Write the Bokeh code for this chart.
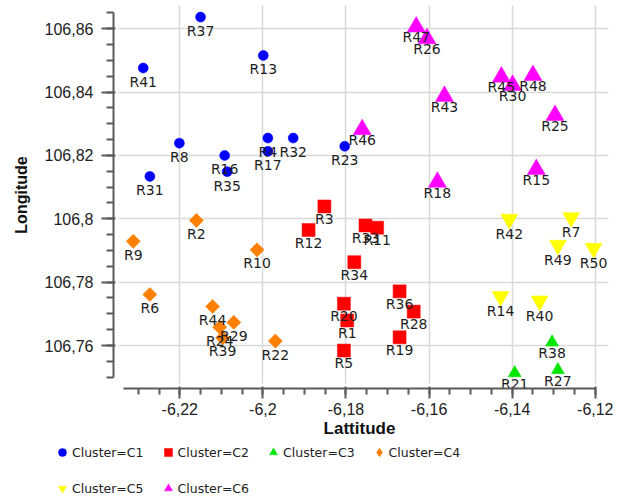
import math
from bokeh.plotting import figure
from bokeh.models import (Range1d, SingleIntervalTicker, CustomJSTickFormatter,
                          Legend, LegendItem)
from bokeh.core.properties import value
from bokeh.embed import file_html
from bokeh.resources import INLINE

# ---------------- data ----------------
c1_names = ["R37", "R13", "R41", "R8", "R31", "R16", "R35", "R4", "R17", "R32", "R23"]
c1_lat = [-6.2150, -6.1999, -6.2288, -6.2201, -6.2272, -6.2092, -6.2086, -6.1988, -6.1988, -6.1927, -6.1803]
c1_lon = [106.8637, 106.8516, 106.8476, 106.8239, 106.8134, 106.8200, 106.8149, 106.8255, 106.8213, 106.8255, 106.8229]

c2_names = ["R3", "R12", "R33", "R11", "R34", "R20", "R1", "R5", "R36", "R28", "R19"]
c2_lat = [-6.1852, -6.1890, -6.1753, -6.1725, -6.1780, -6.1805, -6.1797, -6.1805, -6.1671, -6.1637, -6.1671]
c2_lon = [106.8039, 106.7965, 106.7979, 106.7972, 106.7863, 106.7732, 106.7679, 106.7584, 106.7771, 106.7707, 106.7626]

c3_names = ["R38", "R27", "R21"]
c3_lat = [-6.1304, -6.1290, -6.1394]
c3_lon = [106.7610, 106.7523, 106.7513]

c4_names = ["R2", "R9", "R10", "R6", "R44", "R29", "R24", "R39", "R22"]
c4_lat = [-6.2160, -6.2312, -6.2014, -6.2272, -6.2121, -6.2070, -6.2104, -6.2097, -6.1970]
c4_lon = [106.7995, 106.7929, 106.7902, 106.7761, 106.7723, 106.7673, 106.7658, 106.7624, 106.7614]

c5_names = ["R42", "R7", "R49", "R50", "R14", "R40"]
c5_lat = [-6.1407, -6.1258, -6.1290, -6.1204, -6.1428, -6.1334]
c5_lon = [106.7999, 106.8004, 106.7917, 106.7907, 106.7755, 106.7741]

c6_names = ["R47", "R26", "R45", "R30", "R48", "R43", "R25", "R15", "R18", "R46"]
c6_lat = [-6.1631, -6.1605, -6.1426, -6.1399, -6.1350, -6.1563, -6.1297, -6.1342, -6.1580, -6.1761]
c6_lon = [106.8606, 106.8569, 106.8448, 106.8422, 106.8453, 106.8387, 106.8327, 106.8156, 106.8116, 106.8282]

cluster_labels = ["Cluster=C1", "Cluster=C2", "Cluster=C3", "Cluster=C4", "Cluster=C5", "Cluster=C6"]
x_label = "Lattitude"
y_label = "Longitude"

# ---------------- figure ----------------
# the frame fills the whole canvas; axes are drawn at fixed locations inside it
p = figure(width=621, height=496, title=None,
           x_range=Range1d(-6.26315, -6.11369), y_range=Range1d(106.71232, 106.86894),
           output_backend="svg", toolbar_location=None, min_border=0)
p.outline_line_color = None
p.background_fill_color = "white"

fmt = CustomJSTickFormatter(code="return tick.toFixed(2).replace(/0$/, '').replace('.', ',');")

p.xaxis[0].fixed_location = 106.74642
p.yaxis[0].fixed_location = -6.23596

for ax, bnds, tout, mout in ((p.xaxis[0], (-6.2335, -6.12), 10, 6), (p.yaxis[0], (106.75, 106.865), 12, 7)):
    ax.ticker = SingleIntervalTicker(interval=0.02, num_minor_ticks=4)
    ax.formatter = fmt
    ax.bounds = bnds
    ax.axis_line_color = "#5a5a5a"
    ax.axis_line_width = 2
    ax.major_tick_line_color = "#5a5a5a"
    ax.major_tick_line_width = 2
    ax.minor_tick_line_color = "#5a5a5a"
    ax.minor_tick_line_width = 2
    ax.major_tick_in = 2
    ax.major_tick_out = tout
    ax.minor_tick_in = 0
    ax.minor_tick_out = mout
    ax.major_label_text_font = "Liberation Sans"
    ax.major_label_text_font_size = "16px"
    ax.major_label_text_color = "#222222"
    ax.axis_label_text_font = "Liberation Sans"
    ax.axis_label_text_font_style = "bold"
    ax.axis_label_text_color = "#111111"

p.xaxis.axis_label = x_label
p.yaxis.axis_label = y_label
p.xaxis.axis_label_text_font_size = "17px"
p.yaxis.axis_label_text_font_size = "16px"
p.xaxis.major_label_standoff = 4
p.yaxis.major_label_standoff = 8
p.xaxis.axis_label_standoff = 1
p.yaxis.axis_label_standoff = 12

p.xgrid.ticker = SingleIntervalTicker(interval=0.02)
p.ygrid.ticker = SingleIntervalTicker(interval=0.02)
for g in (p.xgrid[0], p.ygrid[0]):
    g.grid_line_color = "#d9d9d9"
    g.grid_line_width = 1.5
p.xgrid[0].bounds = (-6.23, -6.115)
p.ygrid[0].bounds = (106.75, 106.865)
p.xgrid[0].cross_bounds = (106.748, 106.8674)
p.ygrid[0].cross_bounds = (-6.23475, -6.11682)

series = [
    (c1_names, c1_lat, c1_lon, "circle", "#0000ff", 10, 0.0, 14),
    (c2_names, c2_lat, c2_lon, "square", "#ff0000", 13, 0.0, 12.7),
    (c3_names, c3_lat, c3_lon, "triangle", "#00e600", 13, 0.0, 11),
    (c4_names, c4_lat, c4_lon, "square", "#ff8000", 10, math.pi / 4, 13.5),
    (c5_names, c5_lat, c5_lon, "inverted_triangle", "#ffff00", 17, 0.0, 14.8),
    (c6_names, c6_lat, c6_lon, "triangle", "#ff00ff", 18, 0.0, 10.5),
]

renderers = []
for names, xs, ys, marker, color, size, ang, off in series:
    r = p.scatter(xs, ys, marker=marker, size=size, angle=ang,
                  fill_color=color, line_color=color, line_width=0.5)
    renderers.append(r)

# legend swatch for C4 shown as a diamond (same data, not drawn in the plot)
c4_swatch = p.scatter(c4_lat, c4_lon, marker="diamond", size=10,
                      fill_color="#ff8000", line_color="#ff8000", visible=False)
legend_renderers = [renderers[0], renderers[1], renderers[2], c4_swatch, renderers[4], renderers[5]]

for names, xs, ys, marker, color, size, ang, off in series:
    p.text(xs, ys, text=names, text_align="center", text_baseline="middle",
           y_offset=off, text_font=value("DejaVu Sans"), text_font_size="14px",
           text_color="#1e1e1e")

items = [LegendItem(label=lab, renderers=[r]) for lab, r in zip(cluster_labels, legend_renderers)]

def make_legend(its, loc):
    return Legend(items=its, orientation="horizontal", location=loc,
                  glyph_width=20, glyph_height=22, label_height=22, label_standoff=0,
                  spacing=14, padding=0, margin=0, border_line_color=None,
                  background_fill_alpha=0, inactive_fill_alpha=0,
                  label_text_font="DejaVu Sans",
                  label_text_font_size="12.5px", label_text_color="#222222")

p.add_layout(make_legend(items[:4], (52, 33)), "center")
p.add_layout(make_legend(items[4:], (52, -3)), "center")

open("out.html", "w").write(file_html(p, INLINE))
